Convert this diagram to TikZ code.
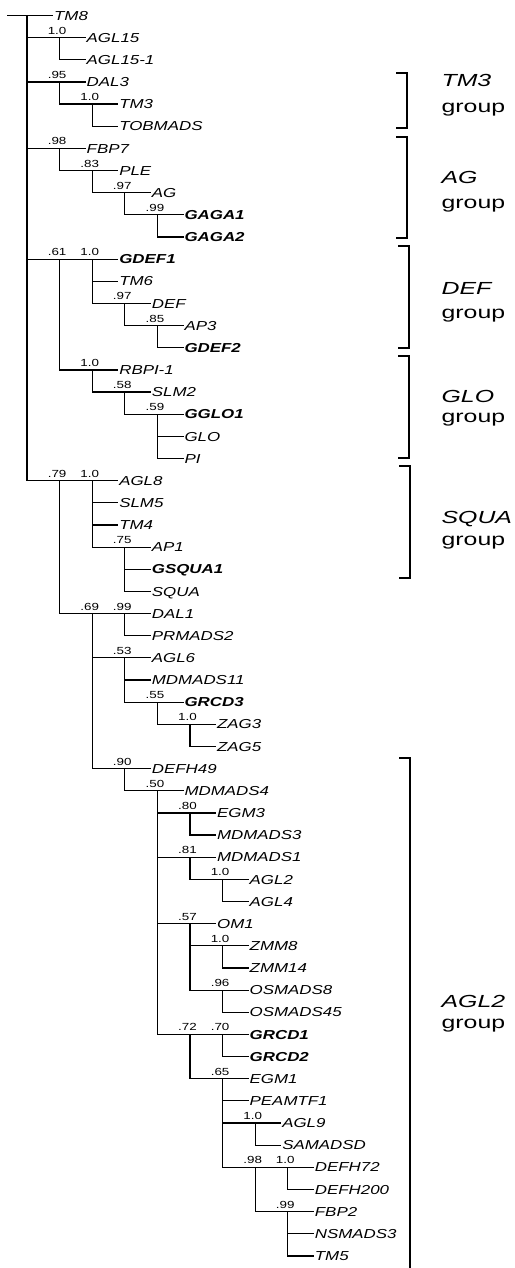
\documentclass[tikz,border=0pt]{standalone}
\usepackage{fontspec}
\setmainfont{Liberation Sans}[FakeStretch=1.3]
\newfontfamily\grpfont{Liberation Sans}[FakeStretch=1.42]
\newcommand{\ry}[1]{15.5+22.15*(#1-1)}
\newcommand{\leafat}[5][leaf]{\node[#1] (#2) at ({#3+25.5},{\ry{#4}}) {#5};}
\newcommand{\inode}[4]{\coordinate (#1) at (#2,{\ry{#3}}); \node[sup] (s#1) at ({#2-2.5},{\ry{#3}-3.5}) {#4};}
\newcommand{\tbr}[2]{\draw (#1 |- #2) -- (#2);}
\newcommand{\tbl}[2]{\draw (#1 |- #2.west) -- (#2.west);}
\newcommand{\tvl}[2]{\draw (#1) -- (#1 |- #2);}
\begin{document}
\begin{tikzpicture}[x=1pt,y=-1pt,line width=1.2pt,line cap=rect,
  leaf/.style={anchor=west,inner sep=1pt,text height=9.3pt,text depth=0pt,font=\fontsize{13}{15}\selectfont\itshape},
  bleaf/.style={leaf,font=\fontsize{13}{15}\selectfont\itshape\bfseries},
  sup/.style={anchor=base,inner sep=0pt,font=\fontsize{10.3}{12}\selectfont},
  grp/.style={anchor=base west,inner sep=0pt,font=\grpfont\fontsize{17.5}{21}\selectfont},
  brk/.style={line width=1.2pt,line cap=butt}]
\useasboundingbox (0,0) rectangle (514,1268);
% leaves
\leafat{l1}{27}{1}{TM8}
\leafat{l2}{59.6}{2}{AGL15}
\leafat{l3}{59.6}{3}{AGL15-1}
\leafat{l4}{59.6}{4}{DAL3}
\leafat{l5}{92.2}{5}{TM3}
\leafat{l6}{92.2}{6}{TOBMADS}
\leafat{l7}{59.6}{7}{FBP7}
\leafat{l8}{92.2}{8}{PLE}
\leafat{l9}{124.8}{9}{AG}
\leafat[bleaf]{l10}{157.4}{10}{GAGA1}
\leafat[bleaf]{l11}{157.4}{11}{GAGA2}
\leafat[bleaf]{l12}{92.2}{12}{GDEF1}
\leafat{l13}{92.2}{13}{TM6}
\leafat{l14}{124.8}{14}{DEF}
\leafat{l15}{157.4}{15}{AP3}
\leafat[bleaf]{l16}{157.4}{16}{GDEF2}
\leafat{l17}{92.2}{17}{RBPI-1}
\leafat{l18}{124.8}{18}{SLM2}
\leafat[bleaf]{l19}{157.4}{19}{GGLO1}
\leafat{l20}{157.4}{20}{GLO}
\leafat{l21}{157.4}{21}{PI}
\leafat{l22}{92.2}{22}{AGL8}
\leafat{l23}{92.2}{23}{SLM5}
\leafat{l24}{92.2}{24}{TM4}
\leafat{l25}{124.8}{25}{AP1}
\leafat[bleaf]{l26}{124.8}{26}{GSQUA1}
\leafat{l27}{124.8}{27}{SQUA}
\leafat{l28}{124.8}{28}{DAL1}
\leafat{l29}{124.8}{29}{PRMADS2}
\leafat{l30}{124.8}{30}{AGL6}
\leafat{l31}{124.8}{31}{MDMADS11}
\leafat[bleaf]{l32}{157.4}{32}{GRCD3}
\leafat{l33}{190}{33}{ZAG3}
\leafat{l34}{190}{34}{ZAG5}
\leafat{l35}{124.8}{35}{DEFH49}
\leafat{l36}{157.4}{36}{MDMADS4}
\leafat{l37}{190}{37}{EGM3}
\leafat{l38}{190}{38}{MDMADS3}
\leafat{l39}{190}{39}{MDMADS1}
\leafat{l40}{222.6}{40}{AGL2}
\leafat{l41}{222.6}{41}{AGL4}
\leafat{l42}{190}{42}{OM1}
\leafat{l43}{222.6}{43}{ZMM8}
\leafat{l44}{222.6}{44}{ZMM14}
\leafat{l45}{222.6}{45}{OSMADS8}
\leafat{l46}{222.6}{46}{OSMADS45}
\leafat[bleaf]{l47}{222.6}{47}{GRCD1}
\leafat[bleaf]{l48}{222.6}{48}{GRCD2}
\leafat{l49}{222.6}{49}{EGM1}
\leafat{l50}{222.6}{50}{PEAMTF1}
\leafat{l51}{255.2}{51}{AGL9}
\leafat{l52}{255.2}{52}{SAMADSD}
\leafat{l53}{287.8}{53}{DEFH72}
\leafat{l54}{287.8}{54}{DEFH200}
\leafat{l55}{287.8}{55}{FBP2}
\leafat{l56}{287.8}{56}{NSMADS3}
\leafat{l57}{287.8}{57}{TM5}
% internal nodes
\coordinate (stub) at (8,{\ry{1}});
\coordinate (root) at (27,{\ry{1}});
\inode{A}{59.6}{2}{1.0}
\inode{B}{59.6}{4}{.95}
\inode{B2}{92.2}{5}{1.0}
\inode{C}{59.6}{7}{.98}
\inode{C2}{92.2}{8}{.83}
\inode{C3}{124.8}{9}{.97}
\inode{C4}{157.4}{10}{.99}
\inode{D}{59.6}{12}{.61}
\inode{D1}{92.2}{12}{1.0}
\inode{D1a}{124.8}{14}{.97}
\inode{D1b}{157.4}{15}{.85}
\inode{D2}{92.2}{17}{1.0}
\inode{D2a}{124.8}{18}{.58}
\inode{D2b}{157.4}{19}{.59}
\inode{E}{59.6}{22}{.79}
\inode{E1}{92.2}{22}{1.0}
\inode{E1a}{124.8}{25}{.75}
\inode{E2}{92.2}{28}{.69}
\inode{F1}{124.8}{28}{.99}
\inode{F2}{124.8}{30}{.53}
\inode{F2a}{157.4}{32}{.55}
\inode{F2b}{190}{33}{1.0}
\inode{F3}{124.8}{35}{.90}
\inode{G}{157.4}{36}{.50}
\inode{H1}{190}{37}{.80}
\inode{H2}{190}{39}{.81}
\inode{H2a}{222.6}{40}{1.0}
\inode{H3}{190}{42}{.57}
\inode{H3a}{222.6}{43}{1.0}
\inode{H3b}{222.6}{45}{.96}
\inode{H4}{190}{47}{.72}
\inode{H4a}{222.6}{47}{.70}
\inode{H4b}{222.6}{49}{.65}
\inode{H4c}{255.2}{51}{1.0}
\inode{H4d}{255.2}{53}{.98}
\inode{H4e}{287.8}{53}{1.0}
\inode{H4f}{287.8}{55}{.99}
% branches
\draw (stub) -- (l1.west);
\tvl{root}{E}
\tbr{root}{A} \tbl{A}{l2} \tbl{A}{l3} \tvl{A}{l3}
\tbr{root}{B} \tbl{B}{l4} \tbr{B}{B2} \tvl{B}{B2} \tbl{B2}{l5} \tbl{B2}{l6} \tvl{B2}{l6}
\tbr{root}{C} \tbl{C}{l7} \tbr{C}{C2} \tvl{C}{C2} \tbl{C2}{l8} \tbr{C2}{C3} \tvl{C2}{C3}
\tbl{C3}{l9} \tbr{C3}{C4} \tvl{C3}{C4} \tbl{C4}{l10} \tbl{C4}{l11} \tvl{C4}{l11}
\tbr{root}{D} \tbr{D}{D1} \tbr{D}{D2} \tvl{D}{D2}
\tbl{D1}{l12} \tbl{D1}{l13} \tbr{D1}{D1a} \tvl{D1}{D1a} \tbl{D1a}{l14} \tbr{D1a}{D1b} \tvl{D1a}{D1b}
\tbl{D1b}{l15} \tbl{D1b}{l16} \tvl{D1b}{l16}
\tbl{D2}{l17} \tbr{D2}{D2a} \tvl{D2}{D2a} \tbl{D2a}{l18} \tbr{D2a}{D2b} \tvl{D2a}{D2b}
\tbl{D2b}{l19} \tbl{D2b}{l20} \tbl{D2b}{l21} \tvl{D2b}{l21}
\tbr{root}{E} \tbr{E}{E1} \tbr{E}{E2} \tvl{E}{E2}
\tbl{E1}{l22} \tbl{E1}{l23} \tbl{E1}{l24} \tbr{E1}{E1a} \tvl{E1}{E1a}
\tbl{E1a}{l25} \tbl{E1a}{l26} \tbl{E1a}{l27} \tvl{E1a}{l27}
\tbr{E2}{F1} \tbr{E2}{F2} \tbr{E2}{F3} \tvl{E2}{F3}
\tbl{F1}{l28} \tbl{F1}{l29} \tvl{F1}{l29}
\tbl{F2}{l30} \tbl{F2}{l31} \tbr{F2}{F2a} \tvl{F2}{F2a} \tbl{F2a}{l32} \tbr{F2a}{F2b} \tvl{F2a}{F2b}
\tbl{F2b}{l33} \tbl{F2b}{l34} \tvl{F2b}{l34}
\tbl{F3}{l35} \tbr{F3}{G} \tvl{F3}{G}
\tbl{G}{l36} \tbr{G}{H1} \tbr{G}{H2} \tbr{G}{H3} \tbr{G}{H4} \tvl{G}{H4}
\tbl{H1}{l37} \tbl{H1}{l38} \tvl{H1}{l38}
\tbl{H2}{l39} \tbr{H2}{H2a} \tvl{H2}{H2a} \tbl{H2a}{l40} \tbl{H2a}{l41} \tvl{H2a}{l41}
\tbl{H3}{l42} \tbr{H3}{H3a} \tbr{H3}{H3b} \tvl{H3}{H3b}
\tbl{H3a}{l43} \tbl{H3a}{l44} \tvl{H3a}{l44} \tbl{H3b}{l45} \tbl{H3b}{l46} \tvl{H3b}{l46}
\tbr{H4}{H4a} \tbr{H4}{H4b} \tvl{H4}{H4b} \tbl{H4a}{l47} \tbl{H4a}{l48} \tvl{H4a}{l48}
\tbl{H4b}{l49} \tbl{H4b}{l50} \tbr{H4b}{H4c} \tbr{H4b}{H4d} \tvl{H4b}{H4d}
\tbl{H4c}{l51} \tbl{H4c}{l52} \tvl{H4c}{l52}
\tbr{H4d}{H4e} \tbr{H4d}{H4f} \tvl{H4d}{H4f}
\tbl{H4e}{l53} \tbl{H4e}{l54} \tvl{H4e}{l54}
\tbl{H4f}{l55} \tbl{H4f}{l56} \tbl{H4f}{l57} \tvl{H4f}{l57}
% group brackets
\coordinate (tTM3) at (407,73); \coordinate (bTM3) at (407,128);
\draw[brk] ([xshift=-11pt]tTM3) -- (tTM3) -- (bTM3) -- ([xshift=-11pt]bTM3);
\coordinate (tAG) at (407,137); \coordinate (bAG) at (407,238);
\draw[brk] ([xshift=-11pt]tAG) -- (tAG) -- (bAG) -- ([xshift=-11pt]bAG);
\coordinate (tDEF) at (409,246); \coordinate (bDEF) at (409,348);
\draw[brk] ([xshift=-11pt]tDEF) -- (tDEF) -- (bDEF) -- ([xshift=-11pt]bDEF);
\coordinate (tGLO) at (409,356); \coordinate (bGLO) at (409,458);
\draw[brk] ([xshift=-11pt]tGLO) -- (tGLO) -- (bGLO) -- ([xshift=-11pt]bGLO);
\coordinate (tSQUA) at (410,466); \coordinate (bSQUA) at (410,578);
\draw[brk] ([xshift=-11pt]tSQUA) -- (tSQUA) -- (bSQUA) -- ([xshift=-11pt]bSQUA);
\coordinate (tAGL2) at (410,758); \coordinate (bAGL2) at (410,1268);
\draw[brk] ([xshift=-11pt]tAGL2) -- (tAGL2) -- (bAGL2);
% group labels
\node[grp] (gTM3) at (441,87) {\itshape TM3};
\node[grp] (gTM3g) at (441,113) {group};
\node[grp] (gAG) at (441,184) {\itshape AG};
\node[grp] (gAGg) at (441,208) {group};
\node[grp] (gDEF) at (441,294) {\itshape DEF};
\node[grp] (gDEFg) at (441,318) {group};
\node[grp] (gGLO) at (441,402) {\itshape GLO};
\node[grp] (gGLOg) at (441,422) {group};
\node[grp] (gSQUA) at (441,523) {\itshape SQUA};
\node[grp] (gSQUAg) at (441,545) {group};
\node[grp] (gAGL2) at (441,1007) {\itshape AGL2};
\node[grp] (gAGL2g) at (441,1028) {group};
\end{tikzpicture}
\end{document}
